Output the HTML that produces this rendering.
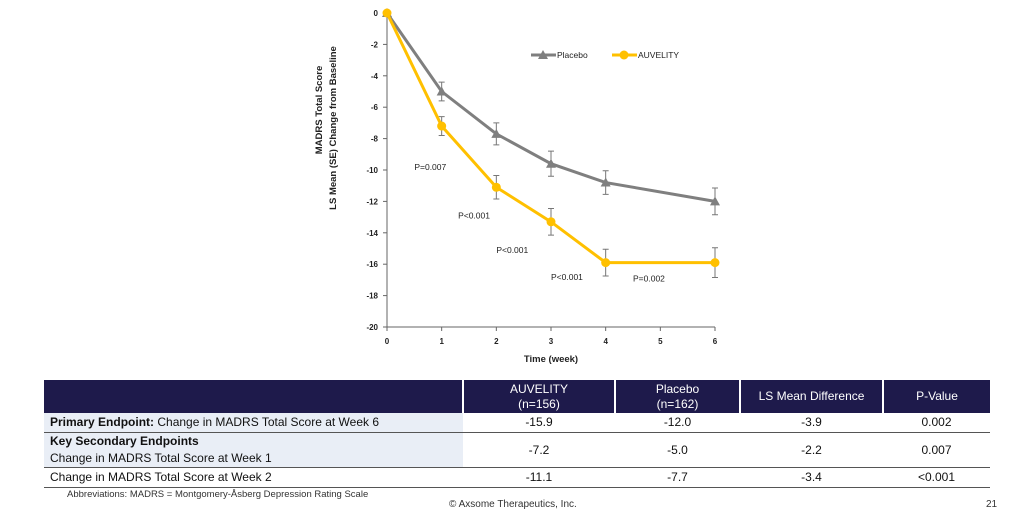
<!DOCTYPE html>
<html><head><meta charset="utf-8"><style>
body{margin:0;background:#fff;width:1034px;height:519px;overflow:hidden;font-family:"Liberation Sans",sans-serif;position:relative}
svg text{font-family:"Liberation Sans",sans-serif}
table{position:absolute;left:44px;top:380px;width:946px;border-collapse:collapse;font-size:12px;color:#111}
td,th{padding:0 6px;text-align:center}
th{background:#1e1a4b;color:#fff;font-weight:normal;height:33px;line-height:15px;border-left:2px solid #fff}
th:first-child{border-left:none}
td.l{text-align:left;background:#e9eef6}
tr.r td{border-bottom:1px solid #555}
.abbr{position:absolute;left:67px;top:489px;font-size:9.5px;color:#333}
.copy{position:absolute;left:449px;top:499px;font-size:10px;color:#333}
.pg{position:absolute;left:986px;top:499px;font-size:10px;color:#333}
</style></head><body>
<svg id="chart" width="1034" height="375" style="position:absolute;left:0;top:0"></svg>
<table>
<tr><th style="width:406px"></th><th style="width:138px">AUVELITY<br>(n=156)</th><th style="width:111px">Placebo<br>(n=162)</th><th style="width:129px">LS Mean Difference</th><th>P-Value</th></tr>
<tr class="r" style="height:19px"><td class="l"><b>Primary Endpoint:</b> Change in MADRS Total Score at Week 6</td><td>-15.9</td><td>-12.0</td><td>-3.9</td><td>0.002</td></tr>
<tr class="r" style="height:34px"><td class="l" style="line-height:17px"><b>Key Secondary Endpoints</b><br>Change in MADRS Total Score at Week 1</td><td>-7.2</td><td>-5.0</td><td>-2.2</td><td>0.007</td></tr>
<tr class="r" style="height:20px"><td class="l" style="background:#fff">Change in MADRS Total Score at Week 2</td><td>-11.1</td><td>-7.7</td><td>-3.4</td><td>&lt;0.001</td></tr>
</table>
<div class="abbr">Abbreviations: MADRS = Montgomery-Åsberg Depression Rating Scale</div>
<div class="copy">© Axsome Therapeutics, Inc.</div>
<div class="pg">21</div>
<script>
const weeks=[0,1,2,3,4,6];
const placebo=[0,-5.0,-7.7,-9.6,-10.8,-12.0];
const placeboSE=[0,0.6,0.7,0.8,0.75,0.85];
const auvelity=[0,-7.2,-11.1,-13.3,-15.9,-15.9];
const auvelitySE=[0,0.6,0.75,0.85,0.85,0.95];
const pLabels=["P=0.007","P<0.001","P<0.001","P<0.001","P=0.002"];
const pPos=[[0.5,-9.8],[1.3,-12.9],[2.0,-15.1],[3.0,-16.8],[4.5,-16.9]];
const xTicks=[0,1,2,3,4,5,6];
const yTicks=[0,-2,-4,-6,-8,-10,-12,-14,-16,-18,-20];
const NS="http://www.w3.org/2000/svg",svg=document.getElementById('chart');
const X=v=>387+v*(715-387)/6, Y=v=>13+(-v)*(327-13)/20;
function el(t,a,p){const e=document.createElementNS(NS,t);for(const k in a)e.setAttribute(k,a[k]);(p||svg).appendChild(e);return e;}
let e=el('line',{x1:X(0),y1:Y(0),x2:X(0),y2:Y(-20),stroke:'#666'});

e=el('line',{x1:X(0),y1:Y(-20),x2:X(6),y2:Y(-20),stroke:'#666'});

yTicks.forEach(v=>{el('line',{x1:X(0)-4,x2:X(0),y1:Y(v),y2:Y(v),stroke:'#666'});
 const t=el('text',{x:X(0)-9,y:Y(v)+3,'font-size':8,'font-weight':'bold','text-anchor':'end',fill:'#222'});t.textContent=v;
 });
xTicks.forEach(v=>{el('line',{x1:X(v),x2:X(v),y1:Y(-20),y2:Y(-20)+4,stroke:'#666'});
 const t=el('text',{x:X(v),y:Y(-20)+17,'font-size':8,'font-weight':'bold','text-anchor':'middle',fill:'#222'});t.textContent=v;
 });
e=el('text',{x:X(3),y:362,'font-size':9.5,'font-weight':'bold','text-anchor':'middle',fill:'#222'});e.textContent='Time (week)';

e=el('text',{transform:'translate(322,110) rotate(-90)','font-size':9.5,'font-weight':'bold','text-anchor':'middle',fill:'#222'});e.textContent='MADRS Total Score';

e=el('text',{transform:'translate(336,128) rotate(-90)','font-size':9.5,'font-weight':'bold','text-anchor':'middle',fill:'#222'});e.textContent='LS Mean (SE) Change from Baseline';

function series(vals,se,col,name,tri){
 vals.forEach((v,i)=>{if(!se[i])return;const x=X(weeks[i]);
  const g=el('path',{d:`M${x},${Y(v-se[i])}V${Y(v+se[i])}M${x-3},${Y(v-se[i])}h6M${x-3},${Y(v+se[i])}h6`,stroke:'#777','stroke-width':1,fill:'none'});
  });
 const l=el('polyline',{points:vals.map((v,i)=>X(weeks[i])+','+Y(v)).join(' '),fill:'none',stroke:col,'stroke-width':3});
 
 vals.forEach((v,i)=>{const x=X(weeks[i]),y=Y(v);let m;
  if(tri)m=el('path',{d:`M${x},${y-5}L${x+5},${y+4}L${x-5},${y+4}Z`,fill:col});
  else m=el('circle',{cx:x,cy:y,r:4.5,fill:col});
  });
}
series(placebo,placeboSE,'#7f7f7f','placebo',true);
series(auvelity,auvelitySE,'#ffc000','auvelity',false);
pLabels.forEach((s,i)=>{const t=el('text',{x:X(pPos[i][0]),y:Y(pPos[i][1])+3,'font-size':8.5,fill:'#222'});t.textContent=s;
 });
e=el('line',{x1:531,x2:556,y1:55,y2:55,stroke:'#7f7f7f','stroke-width':3});
el('path',{d:'M543,50L548,59L538,59Z',fill:'#7f7f7f'});
e=el('text',{x:557,y:58,'font-size':8.5,fill:'#222'});e.textContent='Placebo';

el('line',{x1:612,x2:637,y1:55,y2:55,stroke:'#ffc000','stroke-width':3});
el('circle',{cx:624,cy:55,r:4.5,fill:'#ffc000'});
e=el('text',{x:638,y:58,'font-size':8.5,fill:'#222'});e.textContent='AUVELITY';

</script>
</body></html>
